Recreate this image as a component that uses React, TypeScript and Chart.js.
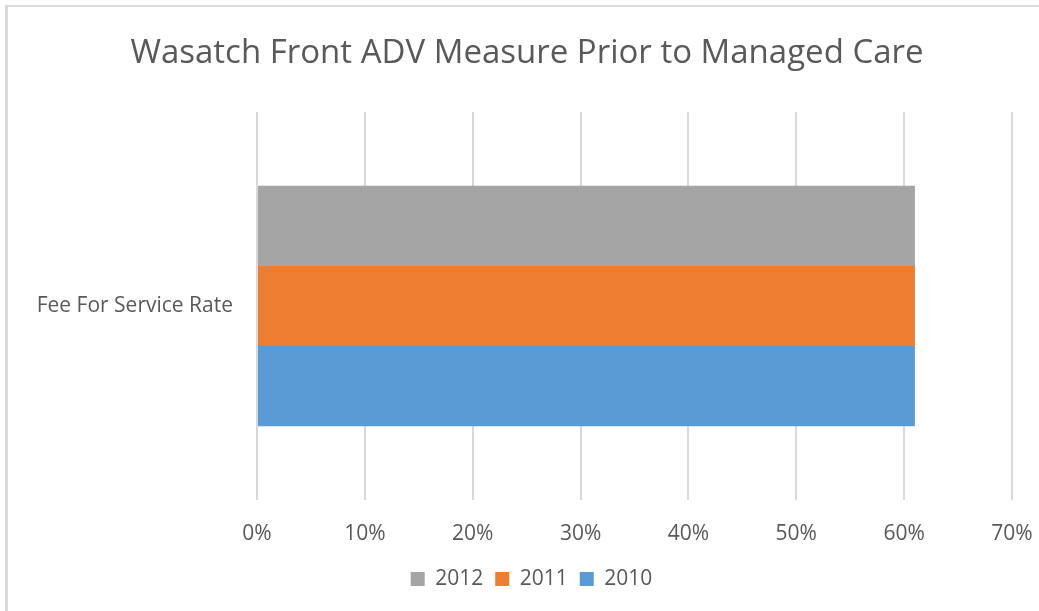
import React, { useEffect, useRef } from "react";
import { Chart, registerables } from "chart.js";

Chart.register(...registerables);

const categories = ["Fee For Service Rate"];
const seriesNames = ["2012", "2011", "2010"];
const values2012 = [61];
const values2011 = [61];
const values2010 = [61];
const seriesColors = ["#A5A5A5", "#ED7D31", "#5B9BD5"];
const xTickMax = 70;
const xTickStep = 10;
const titleText = "Wasatch Front ADV Measure Prior to Managed Care";

const FONT = "'Open Sans', 'Noto Sans', sans-serif";
const TEXT = "#595959";

const blockShift = {
  id: "blockShift",
  afterLayout(chart: any) {
    const l = chart.legend;
    if (l) {
      l.left = 24;
      l.right = 1039;
      l.width = 1015;
    }
    const t = chart.titleBlock;
    if (t) {
      t.left = 15;
      t.right = 1039;
      t.width = 1024;
    }
  },
};

export default function App() {
  const ref = useRef<HTMLCanvasElement | null>(null);
  useEffect(() => {
    if (!ref.current) return;
    const chart = new Chart(ref.current, {
      type: "bar",
      data: {
        labels: categories,
        datasets: [
          { label: seriesNames[0], data: values2012, backgroundColor: seriesColors[0] },
          { label: seriesNames[1], data: values2011, backgroundColor: seriesColors[1] },
          { label: seriesNames[2], data: values2010, backgroundColor: seriesColors[2] },
        ],
      },
      options: {
        indexAxis: "y",
        responsive: false,
        animation: false,
        layout: { padding: { left: 0, right: 27, top: 0, bottom: 11.5 } },
        datasets: { bar: { categoryPercentage: 0.62, barPercentage: 1 } },
        plugins: {
          title: {
            display: true,
            text: titleText,
            color: TEXT,
            font: { family: FONT, size: 33, weight: "normal" },
            padding: { top: 34, bottom: 38.4 },
          },
          legend: {
            position: "bottom",
            labels: {
              color: TEXT,
              font: { family: FONT, size: 21 },
              boxWidth: 14,
              boxHeight: 14,
              padding: 12,
            },
          },
          tooltip: { enabled: false },
        },
        scales: {
          x: {
            min: 0,
            max: xTickMax,
            ticks: {
              stepSize: xTickStep,
              color: TEXT,
              font: { family: FONT, size: 21 },
              padding: 21.5,
              callback: (v: any) => `${v}%`,
            },
            grid: { color: "#d9d9d9", lineWidth: 2, drawTicks: false },
            border: { display: false },
            afterFit: (s: any) => {
              s.height = 56.5;
              s.paddingLeft = 0;
              s.paddingRight = 0;
            },
          },
          y: {
            ticks: {
              color: TEXT,
              font: { family: FONT, size: 21 },
              padding: 24,
            },
            grid: { display: false, drawTicks: false },
            border: { display: false },
            afterFit: (s: any) => {
              s.width = 257;
            },
          },
        },
      },
      plugins: [blockShift],
    } as any);
    return () => chart.destroy();
  }, []);
  return (
    <div style={{ position: "fixed", left: 0, top: 0, width: 1039, height: 611, background: "#fff", overflow: "hidden" }}>
      <div
        style={{
          position: "absolute",
          left: 5,
          top: 5,
          width: 1034,
          height: 606,
          borderTop: "2px solid #dadada",
          borderLeft: "3px solid #dadada",
          boxSizing: "border-box",
        }}
      />
      <canvas ref={ref} width={1039} height={611} style={{ position: "absolute", left: 0, top: 0 }} />
    </div>
  );
}
